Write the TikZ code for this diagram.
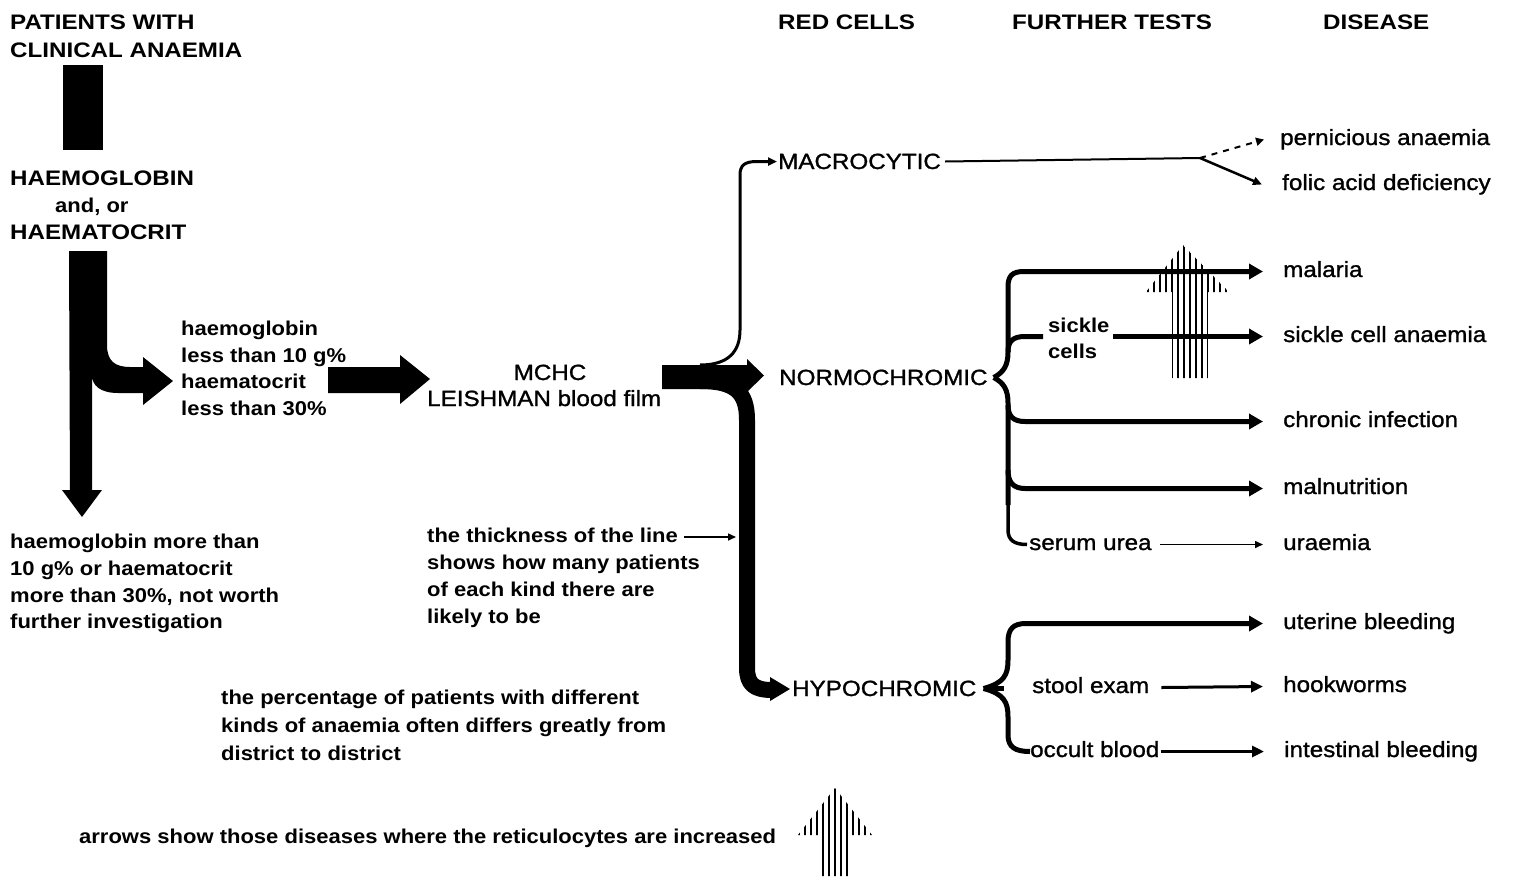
\documentclass[tikz,border=0pt]{standalone}
\usepackage{fontspec}
\setmainfont{Liberation Sans}
\newfontfamily\hdfont{Liberation Sans}[FakeStretch=1.15]
\newfontfamily\txfont{Liberation Sans}[FakeStretch=1.1]
\newfontfamily\rgfont{Liberation Sans}[FakeStretch=1.1, FakeBold=1.2]
\usetikzlibrary{arrows.meta}
\tikzset{
  hd/.style={font=\hdfont\bfseries\fontsize{21}{25}\selectfont, inner sep=0pt, anchor=base west},
  bt/.style={font=\txfont\bfseries\fontsize{20}{27}\selectfont, inner sep=0pt, anchor=base west, text height=14pt, text depth=4pt},
  rg/.style={font=\rgfont\fontsize{22}{27}\selectfont, inner sep=0pt, anchor=base west, text height=15pt, text depth=4pt},
  capsl/.style={rg, text depth=0pt},
  thickarr/.style={line width=5pt, -{Triangle[length=14pt,width=15pt]}},
  medarr/.style={line width=3pt, -{Triangle[length=12pt,width=11pt]}},
  thinarr/.style={line width=1.5pt, -{Triangle[length=8pt,width=7pt]}},
  bracestroke/.style={line width=5pt},
  stripe/.style={line width=2.7pt}
}
\begin{document}
\begin{tikzpicture}[x=1pt,y=-1pt,line join=round]
\useasboundingbox (0,0) rectangle (1515,876);
\fill[white] (0,0) rectangle (1515,876);

% ---- headings
\node[hd] (pat1) at (10,29) {PATIENTS WITH};
\node[hd] (pat2) at (10,57) {CLINICAL ANAEMIA};
\node[hd] (redcells) at (778,29) {RED CELLS};
\node[hd] (further) at (1012,29) {FURTHER TESTS};
\node[hd] (disease) at (1323,29) {DISEASE};
\node[hd] (hb) at (10,185) {HAEMOGLOBIN};
\node[bt] (andor) at (55,212) {and, or};
\node[hd] (hct) at (10,239) {HAEMATOCRIT};

% ---- fat bar and arrows on the left
\fill (63,65) rectangle (103,150);
\fill (69,251) -- (107,251) -- (107,345) .. controls (107,361) and (115,367) .. (130,367)
  -- (143,367) -- (143,357) -- (173,381) -- (143,405) -- (143,393) -- (118,393)
  .. controls (101,393) and (92,386) .. (92,375) -- (92,490) -- (102,490) -- (82,517)
  -- (62,490) -- (70,490) -- cycle;

\node[bt] (lt1) at (181,335) {haemoglobin};
\node[bt] (lt2) at (181,362) {less than 10 g\%};
\node[bt] (lt3) at (181,388) {haematocrit};
\node[bt] (lt4) at (181,415) {less than 30\%};

\fill (328,367) -- (400,367) -- (400,355) -- (430,379) -- (400,404) -- (400,393) -- (328,393) -- cycle;

\node[bt] (ht1) at (10,548) {haemoglobin more than};
\node[bt] (ht2) at (10,575) {10 g\% or haematocrit};
\node[bt] (ht3) at (10,602) {more than 30\%, not worth};
\node[bt] (ht4) at (10,628) {further investigation};

% ---- MCHC
\node[rg, anchor=base] (mchc) at (550,380) {MCHC};
\node[rg] (leish) at (427,406) {LEISHMAN blood film};

% red cell classes
\node[capsl] (macro) at (778,169) {MACROCYTIC};
\node[capsl] (normo) at (779,385) {NORMOCHROMIC};
\node[capsl] (hypo) at (792,696) {HYPOCHROMIC};

% thick band to normochromic
\fill (662,365) -- (747,365) -- (747,359) -- (764,375.5) -- (747,392) -- (747,389) -- (662,389) -- cycle;
% thick band down to hypochromic
\draw[line width=16pt] (700,381) .. controls (735,381) and (747,392) .. (747,420) -- (747,668)
  .. controls (747,684) and (754,690) .. (772,690);
\fill (770,677) -- (790,689) -- (770,701) -- cycle;
% thin line up to macrocytic
\draw[line width=3pt, -{Triangle[length=9pt,width=8pt]}] (700,365) .. controls (728,365) and (740,352) .. (740,330)
  -- (740,175) .. controls (740,165) and (745,161.5) .. (757,161.5) -- ([xshift=-1pt]macro.west);

% thickness note
\node[bt] (th1) at (427,542) {the thickness of the line};
\node[bt] (th2) at (427,569) {shows how many patients};
\node[bt] (th3) at (427,596) {of each kind there are};
\node[bt] (th4) at (427,623) {likely to be};
\coordinate (bandedge) at (736,537);
\draw[thinarr] ([xshift=6pt]th1.east) -- (bandedge);

\node[bt] (pc1) at (221,704) {the percentage of patients with different};
\node[bt] (pc2) at (221,732) {kinds of anaemia often differs greatly from};
\node[bt] (pc3) at (221,760) {district to district};

\node[bt] (legend) at (79,843) {arrows show those diseases where the reticulocytes are increased};

% ---- diseases
\node[rg] (pern) at (1280,145) {pernicious anaemia};
\node[rg] (folic) at (1282,190) {folic acid deficiency};
\node[rg] (malaria) at (1283,277) {malaria};
\node[rg] (sca) at (1283,342) {sickle cell anaemia};
\node[rg] (chronic) at (1283,427) {chronic infection};
\node[rg] (maln) at (1283,494) {malnutrition};
\node[rg] (urae) at (1283,550) {uraemia};
\node[rg] (uter) at (1283,629) {uterine bleeding};
\node[rg] (hook) at (1283,692) {hookworms};
\node[rg] (intest) at (1284,757) {intestinal bleeding};

% further tests
\node[bt] (sick1) at (1048,332) {sickle};
\node[bt] (sick2) at (1048,358) {cells};
\node[rg] (serum) at (1029,550) {serum urea};
\node[rg] (stool) at (1032,693) {stool exam};
\node[rg] (occult) at (1030,757) {occult blood};

% ---- striped arrows (reticulocytes)
\begin{scope}
  \clip (1183,245) -- (1229,292) -- (1208,292) -- (1208,378) -- (1172,378) -- (1172,292) -- (1146,292) -- cycle;
  \foreach \sx in {1148,1154,...,1230} \draw[stripe] (\sx,240) -- (\sx,380);
\end{scope}
\begin{scope}
  \clip (835,788) -- (872,835) -- (849,835) -- (849,876) -- (821,876) -- (821,835) -- (798,835) -- cycle;
  \foreach \sx in {799,805,...,873} \draw[stripe] (\sx,780) -- (\sx,880);
\end{scope}

% ---- macrocytic branches
\draw[line width=2pt] ([xshift=4pt]macro.east) -- (1200,158) coordinate (mfork);
\draw[line width=2pt, dash pattern=on 6pt off 6pt, -{Triangle[length=8pt,width=8pt]}] (mfork) -- ([xshift=-16pt]pern.west);
\draw[line width=2.5pt, -{Triangle[length=9pt,width=8pt]}] (mfork) -- ([xshift=-20pt]folic.west);

% ---- normochromic brace
\coordinate (nb) at ([xshift=6pt]normo.east);
\draw[thickarr] (nb) .. controls (1004,372) and (1008,365) .. (1008,352) -- (1008,287)
  .. controls (1008,276) and (1012,271.5) .. (1024,271.5) -- ([xshift=-20pt]malaria.west);
\draw[bracestroke] (1008,352) .. controls (1008,341) and (1013,336.5) .. (1025,336.5) -- (1043,336.5);
\draw[thickarr] (1113,336.5) -- ([xshift=-20pt]sca.west);
\draw[bracestroke] (nb) .. controls (1004,383) and (1008,390) .. (1008,403) -- (1008,505);
\draw[thickarr] (1008,405) .. controls (1008,416) and (1013,421.5) .. (1025,421.5) -- ([xshift=-20pt]chronic.west);
\draw[thickarr] (1008,470) .. controls (1008,482) and (1013,488.5) .. (1025,488.5) -- ([xshift=-20pt]maln.west);
\draw[line width=3.5pt] (1008,500) -- (1008,530) .. controls (1008,540) and (1014,544.5) .. (1027,544.5);
\draw[thinarr] ([xshift=8pt]serum.east) -- ([xshift=-20pt]urae.west);

% ---- hypochromic brace
\coordinate (hbt) at ([xshift=7pt]hypo.east);
\draw[thickarr] (hbt) .. controls (1004,683) and (1008,675) .. (1008,660) -- (1008,642)
  .. controls (1008,629) and (1013,623.5) .. (1026,623.5) -- ([xshift=-20pt]uter.west);
\draw[bracestroke] (hbt) .. controls (1004,694) and (1008,702) .. (1008,717) -- (1008,735)
  .. controls (1008,747) and (1015,751.5) .. (1030,751.5);
\draw[bracestroke] (hbt) -- ++(20,0);
\draw[medarr] ([xshift=12pt]stool.east) -- ([xshift=-20pt]hook.west);
\draw[medarr] ([xshift=1pt]occult.east) -- ([xshift=-20pt]intest.west);
\end{tikzpicture}
\end{document}
